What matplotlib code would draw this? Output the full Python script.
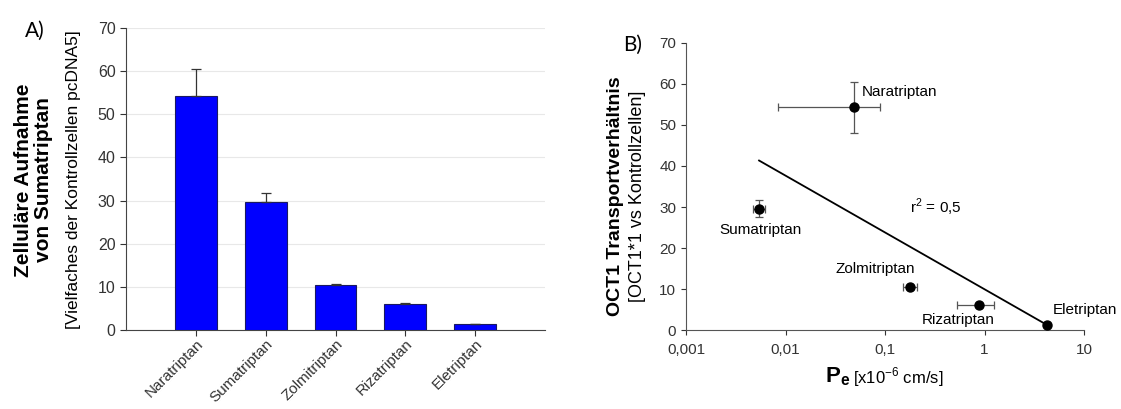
import numpy as np
import matplotlib
matplotlib.use("Agg")
import matplotlib.pyplot as plt
from matplotlib.ticker import FixedLocator, FuncFormatter

plt.rcParams["font.family"] = ["Liberation Sans", "DejaVu Sans"]
plt.rcParams["mathtext.fontset"] = "custom"
plt.rcParams["mathtext.rm"] = "Liberation Sans"
plt.rcParams["mathtext.bf"] = "Liberation Sans:bold"

# Panel A: cellular uptake of sumatriptan
drugs_a = ["Naratriptan", "Sumatriptan", "Zolmitriptan", "Rizatriptan", "Eletriptan"]
uptake = [54.3, 29.6, 10.4, 6.1, 1.3]
uptake_err = [6.3, 2.1, 0.3, 0.2, 0.2]

# Panel B: OCT1 transport ratio vs permeability
drugs_b = ["Naratriptan", "Sumatriptan", "Zolmitriptan", "Rizatriptan", "Eletriptan"]
pe = [0.049, 0.00542, 0.178, 0.88, 4.26]
pe_lo = [0.0084, 0.0047, 0.150, 0.525, 4.1]
pe_hi = [0.089, 0.0062, 0.210, 1.245, 4.45]
ratio = [54.3, 29.6, 10.4, 6.1, 1.3]
ratio_err = [6.3, 2.1, 0.4, 0.3, 0.2]
r2_label = "r$^2$ = 0,5"

fig = plt.figure(figsize=(11.21, 4.09), dpi=100)

# ---- A ----
ax_a = fig.add_axes([0.1124, 0.193, 0.3738, 0.7385])
xs = np.arange(len(drugs_a))
ax_a.bar(xs, uptake, width=0.6, color="#0000ff", edgecolor="#1a1a60", linewidth=0.8, zorder=3)
ax_a.errorbar(xs, uptake, yerr=[np.zeros(len(uptake)), uptake_err], fmt="none",
              ecolor="#333333", elinewidth=0.9, capsize=3.5, capthick=0.9, zorder=4)
ax_a.set_xlim(-1, 5)
ax_a.set_ylim(0, 70)
ax_a.set_yticks(range(0, 71, 10))
ax_a.set_xticks(xs)
ax_a.set_xticklabels(drugs_a, rotation=45, ha="right", rotation_mode="anchor", fontsize=11)
ax_a.tick_params(axis="y", labelsize=11.5, length=4, direction="out", width=0.8, colors="#333333")
ax_a.tick_params(axis="x", length=4, direction="out", width=0.8, pad=1, colors="#333333")
ax_a.yaxis.grid(True, color="#e8e8e8", linewidth=0.8, zorder=0)
ax_a.set_axisbelow(True)
for side in ("top", "right"):
    ax_a.spines[side].set_visible(False)
for side in ("left", "bottom"):
    ax_a.spines[side].set_color("#444444")

fig.text(0.030, 0.56, "Zelluläre Aufnahme\nvon Sumatriptan", rotation=90, ha="center",
         va="center", fontsize=15, fontweight="bold", linespacing=1.05)
fig.text(0.066, 0.56, "[Vielfaches der Kontrollzellen pcDNA5]", rotation=90, ha="center",
         va="center", fontsize=12.5)
fig.text(0.022, 0.925, "A)", fontsize=15, family=["Lato", "DejaVu Sans"], va="center")

# ---- B ----
ax_b = fig.add_axes([0.612, 0.193, 0.355, 0.702])
xerr = [np.array(pe) - np.array(pe_lo), np.array(pe_hi) - np.array(pe)]
ax_b.errorbar(pe, ratio, yerr=ratio_err, xerr=xerr, fmt="o", color="black", markersize=6.5,
              ecolor="#555555", elinewidth=0.9, capsize=3, capthick=0.9, zorder=3)

# log-linear regression
b, a = np.polyfit(np.log10(pe), ratio, 1)
fit_x = np.array([min(pe), max(pe)])
ax_b.plot(fit_x, a + b * np.log10(fit_x), color="black", linewidth=1.3, zorder=2)

ax_b.set_xscale("log")
ax_b.set_xlim(0.001, 10)
ax_b.set_ylim(0, 70)
ax_b.set_yticks(range(0, 71, 10))
ax_b.xaxis.set_major_locator(FixedLocator([0.001, 0.01, 0.1, 1, 10]))
ax_b.xaxis.set_minor_locator(FixedLocator([]))
ax_b.xaxis.set_major_formatter(FuncFormatter(lambda v, p: f"{v:g}".replace(".", ",")))
ax_b.tick_params(axis="both", labelsize=11, length=3.5, direction="out", width=0.8, colors="#333333")
ax_b.tick_params(axis="x", pad=6)
for side in ("top", "right"):
    ax_b.spines[side].set_visible(False)
for side in ("left", "bottom"):
    ax_b.spines[side].set_color("#555555")

label_pos = {
    "Naratriptan": (0.058, 58.0, "left"),
    "Sumatriptan": (0.0056, 24.4, "center"),
    "Zolmitriptan": (0.08, 14.9, "center"),
    "Rizatriptan": (0.55, 2.4, "center"),
    "Eletriptan": (4.9, 4.9, "left"),
}
for name in drugs_b:
    lx, ly, ha = label_pos[name]
    ax_b.text(lx, ly, name, ha=ha, va="center", fontsize=11)
ax_b.text(0.178, 30.0, r2_label, ha="left", va="center", fontsize=11)

fig.text(0.7475, 0.08, r"$\mathbf{P_e}$", ha="center", va="center", fontsize=16)
fig.text(0.761, 0.078, "[x10$^{-6}$ cm/s]", ha="left", va="center", fontsize=12)
fig.text(0.549, 0.52, "OCT1 Transportverhältnis", rotation=90, ha="center", va="center",
         fontsize=14, fontweight="bold")
fig.text(0.5685, 0.52, "[OCT1*1 vs Kontrollzellen]", rotation=90, ha="center", va="center",
         fontsize=13)
fig.text(0.556, 0.89, "B)", fontsize=15, family=["Lato", "DejaVu Sans"], va="center")

fig.savefig("out.png", dpi=100)
